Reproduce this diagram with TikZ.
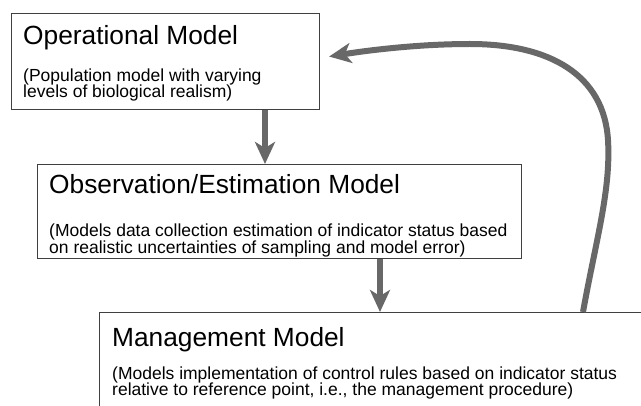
\documentclass[tikz,border=0pt]{standalone}
\usepackage{fontspec}
\setmainfont{Liberation Sans}
\usetikzlibrary{arrows.meta}
\definecolor{arrgray}{HTML}{686868}
\definecolor{boxline}{HTML}{404040}
\begin{document}
\begin{tikzpicture}[x=1pt,y=-1pt,
  box/.style={draw=boxline,line width=1.1pt,fill=white,rectangle,inner sep=0pt,anchor=north west},
  ttl/.style={anchor=base west,inner sep=0pt,font=\fontsize{26.3}{30}\selectfont},
  sub/.style={anchor=base west,inner sep=0pt,font=\fontsize{17.5}{17}\selectfont},
  arr/.style={draw=arrgray,line width=6pt,-{Stealth[length=22pt,width=20pt,inset=6pt]}}]
\useasboundingbox (0,0) rectangle (641,406);
\clip (0,0) rectangle (641,406);
\fill[white] (0,0) rectangle (641,406);
% boxes
\node[box,minimum width=308pt,minimum height=96pt] (b1) at (11,13) {};
\node[box,minimum width=484pt,minimum height=94pt] (b2) at (37,164) {};
\node[box,minimum width=560pt,minimum height=120pt] (b3) at (99,312) {};
% texts
\node[ttl] (t1) at (23,45) {Operational Model};
\node[sub] (s1a) at (23,82) {(Population model with varying};
\node[sub] (s1b) at (23,98) {levels of biological realism)};
\node[ttl] (t2) at (49,194) {Observation/Estimation Model};
\node[sub] (s2a) at (49,237) {(Models data collection estimation of indicator status based};
\node[sub] (s2b) at (49,254) {on realistic uncertainties of sampling and model error)};
\node[ttl] (t3) at (112,347) {Management Model};
\node[sub] (s3a) at (112,380) {(Models implementation of control rules based on indicator status};
\node[sub] (s3b) at (112,396) {relative to reference point, i.e., the management procedure)};
% arrows
\draw[arr] ([xshift=254pt]b1.south west) -- ([xshift=228pt]b2.north west);
\draw[arr] ([xshift=343pt]b2.south west) -- ([xshift=281pt]b3.north west);
\draw[arr] ([xshift=484pt]b3.north west) .. controls (596,240) and (611,190) .. (608,140)
  .. controls (604,75) and (550,44) .. (470,44)
  .. controls (420,44) and (370,50) .. ([xshift=9pt,yshift=5pt]b1.east);
\end{tikzpicture}
\end{document}
